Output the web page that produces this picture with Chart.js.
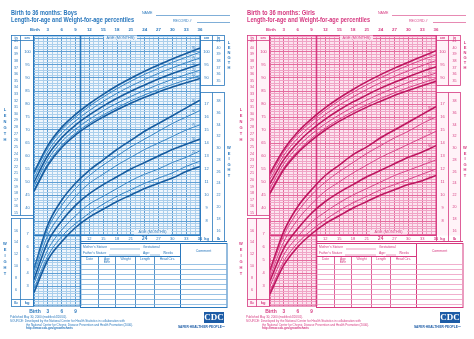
<!DOCTYPE html>
<html><head><meta charset="utf-8">
<script src="https://cdn.jsdelivr.net/npm/chart.js@4/dist/chart.umd.min.js"></script>
<style>
html,body{margin:0;padding:0;background:#fff;width:474px;height:339px;overflow:hidden}
canvas{position:absolute;top:0}
</style></head><body>
<canvas id="boys" width="237" height="339" style="left:0"></canvas>
<canvas id="girls" width="237" height="339" style="left:236px"></canvas>
<script>
// ---------- DATA ----------
const ages = [0,3,6,9,12,15,18,21,24,27,30,33,36];
const pctNames = ['5','10','25','50','75','90','95'];
const topAgeLabels = ['Birth','3','6','9','12','15','18','21','24','27','30','33','36'];
const bottomAgeLeft = ['Birth','3','6','9'];
const bottomAgeRight = ['12','15','18','21','24','27','30','33','36'];
const cmTicksLeft = [100,95,90,85,80,75,70,65,60,55,50,45,40];
const cmTicksRight = [100,95,90];
const inTicksLeft = [41,40,39,38,37,36,35,34,33,32,31,30,29,28,27,26,25,24,23,22,21,20,19,18,17,16,15];
const inTicksRight = [41,40,39,38,37,36,35];
const kgTicksRight = [17,16,15,14,13,12,11,10,9,8];
const lbTicksRight = [38,36,34,32,30,28,26,24,22,20,18,16];
const kgTicksLeft = [7,6,5,4,3];
const lbTicksLeft = [16,14,12,10,8,6];

const boysLength = [
 [46.4,56.4,63.3,68.1,71.9,75.0,77.8,80.3,82.6,84.6,86.5,88.2,89.8],
 [47.0,57.1,64.0,68.8,72.6,75.8,78.6,81.2,83.5,85.6,87.5,89.3,90.9],
 [48.3,58.6,65.5,70.3,74.1,77.4,80.3,82.9,85.3,87.5,89.5,91.3,93.0],
 [49.9,60.2,67.0,71.9,75.8,79.2,82.2,84.9,87.3,89.6,91.7,93.6,95.3],
 [51.5,61.7,68.6,73.5,77.5,81.0,84.1,86.9,89.4,91.8,93.9,95.9,97.7],
 [52.9,63.1,70.1,75.0,79.1,82.7,85.9,88.8,91.4,93.8,96.0,98.0,99.9],
 [53.7,64.0,71.0,76.0,80.1,83.7,87.0,89.9,92.6,95.0,97.3,99.4,101.5]
];
const boysWeight = [
 [2.5,5.0,6.4,7.5,8.3,8.9,9.5,10.0,10.5,10.9,11.3,11.8,12.2],
 [2.8,5.3,6.8,7.8,8.6,9.3,9.9,10.4,10.9,11.3,11.7,12.2,12.6],
 [3.2,5.8,7.3,8.4,9.3,9.9,10.5,11.1,11.6,12.0,12.5,12.9,13.4],
 [3.5,6.4,8.0,9.2,10.1,10.8,11.4,12.0,12.5,13.0,13.5,13.9,14.3],
 [3.9,6.9,8.6,9.9,10.9,11.6,12.3,12.9,13.5,14.0,14.5,15.0,15.4],
 [4.2,7.4,9.2,10.5,11.5,12.3,13.0,13.7,14.3,14.9,15.5,16.0,16.5],
 [4.3,7.7,9.6,10.9,11.9,12.7,13.5,14.2,14.9,15.5,16.1,16.7,17.3]
];
const girlsLength = [
 [45.6,54.8,61.2,66.0,70.0,73.3,76.2,78.8,81.1,83.3,85.2,87.0,88.7],
 [46.2,55.5,61.9,66.8,70.8,74.1,77.1,79.7,82.1,84.3,86.3,88.1,89.8],
 [47.5,57.0,63.5,68.4,72.4,75.8,78.8,81.5,84.0,86.2,88.3,90.2,91.9],
 [49.3,58.6,65.1,70.1,74.2,77.7,80.8,83.5,86.1,88.4,90.5,92.5,94.3],
 [51.0,60.2,66.8,71.8,76.0,79.6,82.7,85.6,88.2,90.6,92.8,94.8,96.7],
 [52.4,61.6,68.3,73.3,77.6,81.3,84.5,87.4,90.1,92.6,94.9,97.0,98.9],
 [53.3,62.5,69.2,74.3,78.6,82.3,85.6,88.6,91.3,93.8,96.1,98.3,100.5]
];
const girlsWeight = [
 [2.4,4.6,6.0,7.0,7.8,8.4,9.0,9.5,10.0,10.4,10.8,11.1,11.5],
 [2.6,4.9,6.3,7.3,8.1,8.8,9.4,9.9,10.4,10.8,11.2,11.6,12.0],
 [3.0,5.4,6.8,7.9,8.7,9.4,10.0,10.5,11.0,11.5,11.9,12.3,12.7],
 [3.4,5.9,7.4,8.6,9.5,10.2,10.8,11.4,11.9,12.4,12.9,13.3,13.8],
 [3.7,6.4,8.1,9.3,10.3,11.0,11.7,12.3,12.9,13.4,13.9,14.4,14.9],
 [4.0,6.9,8.7,10.0,11.0,11.8,12.5,13.2,13.8,14.4,14.9,15.5,16.0],
 [4.2,7.2,9.1,10.4,11.5,12.3,13.1,13.7,14.4,15.0,15.6,16.2,16.8]
];

// ---------- GEOMETRY ----------
const G = {left:34,right:200,top:35,bottom:306,cm100Y:52,pxPerCm:2.6,kg10Y:195,pxPerKg:13,W:237,H:339};
const LEN_MAX = 100 + (G.cm100Y-G.top)/G.pxPerCm;
const LEN_MIN = 100 - (G.bottom-G.cm100Y)/G.pxPerCm;
const WT_MAX = 10 + (G.kg10Y-G.top)/G.pxPerKg;
const WT_MIN = 10 - (G.bottom-G.kg10Y)/G.pxPerKg;
const FONT = '"Liberation Sans", Arial, sans-serif';

function txt(c,s,x,y,size,color,opt){
  opt=opt||{};
  c.font=(opt.bold?'bold ':'')+size+'px '+FONT;
  c.fillStyle=color; c.textAlign=opt.align||'center'; c.textBaseline='middle';
  c.fillText(s,x,y);
}
function fitTxt(c,s,x,y,w,size,color,bold){
  c.font=(bold?'bold ':'')+size+'px '+FONT;
  const m=c.measureText(s).width;
  c.save(); c.translate(x,y); c.scale(w/m,1);
  c.fillStyle=color; c.textAlign='left'; c.textBaseline='middle';
  c.fillText(s,0,0); c.restore();
}
function line(c,x1,y1,x2,y2,color,w){
  c.beginPath(); c.moveTo(x1,y1); c.lineTo(x2,y2); c.strokeStyle=color; c.lineWidth=w||1; c.stroke();
}
function isMult(v,m){const r=Math.round(v);return Math.abs(r-v)<1e-6 && r%m===0;}

function panelPlugin(cfg){
  return {
    id:'panel'+cfg.id,
    beforeDraw(chart){
      const c=chart.ctx,a=chart.chartArea;
      c.save();
      c.fillStyle='#ffffff'; c.fillRect(0,0,G.W,G.H);
      c.fillStyle=cfg.gridBg; c.fillRect(a.left,a.top,a.right-a.left,a.bottom-a.top);
      c.fillStyle=cfg.colBg;
      c.fillRect(11,35,22,181); c.fillRect(11,218,22,88);
      c.fillRect(200,35,24,51); c.fillRect(200,92,24,149);
      c.restore();
    },
    beforeDatasetsDraw(chart){
      const c=chart.ctx,a=chart.chartArea,xs=chart.scales.x;
      c.save();
      const x10=Math.round(xs.getPixelForValue(10))+0.5;
      c.fillStyle='#ffffff';
      c.fillRect(x10,235.5,228-x10,72);
      c.strokeStyle=cfg.dark; c.lineWidth=1;
      c.strokeRect(a.left-0.5,a.top+0.5,a.right-a.left+0.5,235-a.top);
      c.strokeRect(a.left-0.5,235.5,x10-a.left+0.5,a.bottom-235.5);
      line(c,x10,a.top,x10,a.bottom,cfg.dark,1.6);
      c.fillStyle=cfg.gridBg;
      c.fillRect(104,35.5,33,5);
      c.fillRect(134,230,37,4.5);
      line(c,x10,241.5,227,241.5,cfg.dark,1);
      const T={l:x10,r:227,t:243,b:307};
      c.strokeStyle=cfg.dark; c.lineWidth=1;
      c.strokeRect(T.l,T.t+0.5,T.r-T.l,T.b-T.t);
      line(c,180.5,T.t,180.5,T.b,cfg.dark,1);
      line(c,T.l,256.5,180.5,256.5,cfg.dark,1);
      [98.5,115.5,135.5,154.5].forEach(x=>line(c,x,256.5,x,T.b,cfg.dark,0.8));
      for(let y=264.5;y<T.b;y+=5)line(c,T.l,y,T.r,y,cfg.light,0.8);
      c.strokeStyle=cfg.dark;
      c.strokeRect(11.5,35.5,22,180); line(c,20.5,35.5,20.5,215.5,cfg.dark,0.8);
      c.strokeRect(11.5,218.5,22,88); line(c,20.5,218.5,20.5,306.5,cfg.dark,0.8);
      line(c,11.5,299.5,33.5,299.5,cfg.dark,0.8);
      c.strokeRect(200.5,35.5,24,50); line(c,212.5,35.5,212.5,85.5,cfg.dark,0.8);
      c.strokeRect(200.5,92.5,24,149); line(c,212.5,92.5,212.5,241.5,cfg.dark,0.8);
      line(c,11.5,40.5,33.5,40.5,cfg.dark,0.8); line(c,200.5,40.5,224.5,40.5,cfg.dark,0.8);
      c.restore();
    },
    afterDraw(chart){
      const c=chart.ctx,xs=chart.scales.x,yl=chart.scales.yLen,yw=chart.scales.yWt;
      const T=cfg.text;
      c.save();
      fitTxt(c,'Birth to 36 months: '+cfg.sex,11,13,cfg.id==='b'?66:68,7,T,true);
      fitTxt(c,'Length-for-age and Weight-for-age percentiles',11,20.5,123,7,T,true);
      txt(c,'NAME',142,13,3.6,T,{align:'left'}); line(c,156,15.5,230,15.5,T,0.6);
      txt(c,'RECORD #',173,20.5,3.6,T,{align:'left'}); line(c,197,22.5,230,22.5,T,0.6);
      ages.forEach((a,i)=>txt(c,topAgeLabels[i],xs.getPixelForValue(a)+(i===0?1:0),30,i===0?4.2:4.4,T,{bold:true}));
      txt(c,'AGE (MONTHS)',120.5,38.2,3.8,T,{});
      txt(c,'AGE (MONTHS)',152.5,232.3,3.8,T,{});
      txt(c,'in',16,38,3.6,T,{bold:true}); txt(c,'cm',27,38,3.6,T,{bold:true});
      txt(c,'cm',206.5,38,3.6,T,{bold:true}); txt(c,'in',218.5,38,3.6,T,{bold:true});
      inTicksLeft.forEach(v=>txt(c,String(v),16,yl.getPixelForValue(v*2.54),3.6,T));
      cmTicksLeft.forEach(v=>txt(c,String(v),27.5,yl.getPixelForValue(v),4,T));
      inTicksRight.forEach(v=>txt(c,String(v),218.5,yl.getPixelForValue(v*2.54),3.6,T));
      cmTicksRight.forEach(v=>txt(c,String(v),206.5,yl.getPixelForValue(v),4,T));
      kgTicksRight.forEach(v=>txt(c,String(v),206.5,yw.getPixelForValue(v),4,T));
      lbTicksRight.forEach(v=>txt(c,String(v),218.5,yw.getPixelForValue(v*0.45359),3.6,T));
      kgTicksLeft.forEach(v=>txt(c,String(v),27.5,yw.getPixelForValue(v),4,T));
      lbTicksLeft.forEach(v=>txt(c,String(v),16,yw.getPixelForValue(v*0.45359),3.6,T));
      txt(c,'lb',16,303,4,T,{bold:true}); txt(c,'kg',27,303,4,T,{bold:true});
      bottomAgeLeft.forEach((s,i)=>txt(c,s,xs.getPixelForValue(i*3)+(i===0?1:0),311.5,i===0?5:4.6,T,{bold:true}));
      bottomAgeRight.forEach((s,i)=>txt(c,s,xs.getPixelForValue(12+i*3),238.6,s==='24'?4.6:4,T,{bold:s==='24'||s==='36'}));
      txt(c,'kg',206.5,238.6,4,T,{bold:true}); txt(c,'lb',218.5,238.6,4,T,{bold:true});
      'LENGTH'.split('').forEach((ch,i)=>{txt(c,ch,5,110+i*6,4,T,{bold:true});txt(c,ch,229,43+i*5,4,T,{bold:true});});
      'WEIGHT'.split('').forEach((ch,i)=>{txt(c,ch,5,244+i*6,4,T,{bold:true});txt(c,ch,229,148+i*5.5,4,T,{bold:true});});
      [cfg.len,cfg.wt].forEach((set,k)=>{
        const sc=k===0?yl:yw;
        set.forEach((vals,i)=>{
          const v=vals[vals.length-1]-(vals[vals.length-1]-vals[vals.length-2])*0.45;
          txt(c,pctNames[i],xs.getPixelForValue(34.6),sc.getPixelForValue(v)-2,3,T);
        });
      });
      txt(c,"Mother's Stature",83,247.3,3.3,T,{align:'left'}); line(c,110,249,140,249,T,0.5);
      txt(c,'Gestational',143,247.3,3.3,T,{align:'left'});
      txt(c,"Father's Stature",83,253,3.3,T,{align:'left'}); line(c,109,255,140,255,T,0.5);
      txt(c,'Age:',143,253,3.3,T,{align:'left'}); line(c,150,255,160,255,T,0.5);
      txt(c,'Weeks',163,253,3.3,T,{align:'left'});
      txt(c,'Comment',203.5,251,3.6,T);
      txt(c,'Date',89.5,259.2,3.3,T); txt(c,'Age',107,259.2,3.3,T); txt(c,'Birth',107,262.6,3.1,T);
      txt(c,'Weight',125.5,259.2,3.3,T); txt(c,'Length',145,259.2,3.3,T); txt(c,'Head Circ.',167.5,259.2,3.3,T);
      fitTxt(c,'Published May 30, 2000 (modified 4/20/01).',10,317.3,57,3.3,T,false);
      fitTxt(c,'SOURCE: Developed by the National Center for Health Statistics in collaboration with',10,321,115,3.3,T,false);
      fitTxt(c,'the National Center for Chronic Disease Prevention and Health Promotion (2000).',26,324.7,107,3.3,T,false);
      fitTxt(c,'http://www.cdc.gov/growthcharts',26,328.4,47,3.3,T,true);
      c.fillStyle='#1d5ca6'; c.fillRect(204,312,20,11);
      c.font='bold 9px "Liberation Serif", serif'; c.fillStyle='#fff'; c.textAlign='center'; c.textBaseline='middle';
      c.fillText('CDC',214,318);
      fitTxt(c,'SAFER·HEALTHIER·PEOPLE™',178,327.5,47,3,'#1d5ca6',true);
      c.restore();
    }
  };
}

function makeChart(id,cfg){
  const datasets=[];
  const add=(set,axis,kind)=>set.forEach((vals,i)=>{
    const dark=(i===0||i===3||i===6);
    datasets.push({
      label:kind+' '+pctNames[i]+'th',
      data:ages.map((a,j)=>({x:a,y:vals[j]})),
      yAxisID:axis,
      borderColor:dark?cfg.curveDark:cfg.curveLight,
      borderWidth:dark?1.6:1,
      pointRadius:0,fill:false,
      cubicInterpolationMode:'monotone'
    });
  });
  add(cfg.len,'yLen','Length'); add(cfg.wt,'yWt','Weight');
  return new Chart(document.getElementById(id),{
    type:'line',
    data:{datasets},
    options:{
      responsive:false,animation:false,devicePixelRatio:1,
      layout:{padding:{left:G.left,right:G.W-G.right,top:G.top,bottom:G.H-G.bottom}},
      plugins:{legend:{display:false},tooltip:{enabled:false},title:{display:false}},
      scales:{
        x:{type:'linear',min:0,max:36,
          ticks:{display:false,stepSize:1,includeBounds:false},
          grid:{drawTicks:false,color:ctx=>isMult(ctx.tick.value,3)?cfg.gridMid:cfg.gridLight,lineWidth:1},
          border:{display:false},afterFit:s=>{s.height=0;}},
        yLen:{type:'linear',position:'left',min:LEN_MIN,max:LEN_MAX,
          ticks:{display:false,stepSize:1,includeBounds:false},
          grid:{drawTicks:false,color:ctx=>isMult(ctx.tick.value,5)?cfg.gridMid:cfg.gridLight,lineWidth:1},
          border:{display:false},afterFit:s=>{s.width=0;}},
        yWt:{type:'linear',position:'right',min:WT_MIN,max:WT_MAX,
          ticks:{display:false},grid:{display:false,drawTicks:false},
          border:{display:false},afterFit:s=>{s.width=0;}}
      }
    },
    plugins:[panelPlugin(cfg)]
  });
}

makeChart('boys',{id:'b',sex:'Boys',len:boysLength,wt:boysWeight,
  text:'#2a78bd',dark:'#2a78bd',light:'#7fb3de',curveDark:'#175c9f',curveLight:'#3a86c5',
  gridBg:'#f0f6fc',colBg:'#ffffff',gridLight:'#abcfec',gridMid:'#5f9fd4'});
makeChart('girls',{id:'g',sex:'Girls',len:girlsLength,wt:girlsWeight,
  text:'#d63a80',dark:'#d63a80',light:'#ee9cc1',curveDark:'#bd1760',curveLight:'#d8468a',
  gridBg:'#fce4ef',colBg:'#fff3f8',gridLight:'#f0a4c6',gridMid:'#e46c9e'});
</script>
</body></html>
